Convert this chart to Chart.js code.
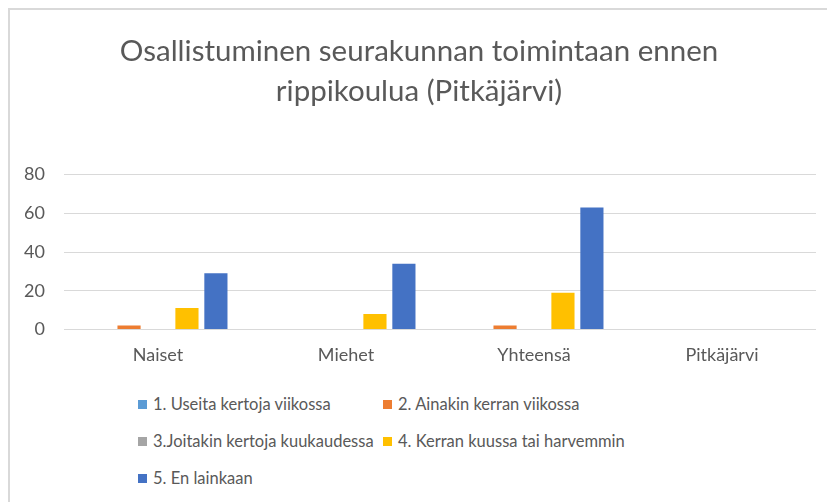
<!DOCTYPE html>
<html>
<head>
<meta charset="utf-8">
<script src="https://cdn.jsdelivr.net/npm/chart.js@4.4.1/dist/chart.umd.min.js"></script>
<style>
  html, body { margin: 0; padding: 0; background: #fff; }
  body { width: 827px; height: 502px; overflow: hidden; position: relative; font-family: Lato, "Open Sans", sans-serif; }
  #frame { position: absolute; left: 8px; top: 8px; width: 840px; height: 520px; border-left: 2px solid #d9d9d9; border-top: 2px solid #d9d9d9; }
  #wrap { position: absolute; left: 0; top: 0; width: 827px; height: 377px; }
  #legend { position: absolute; left: 138px; top: 390px; display: grid; grid-template-columns: 245px 245px; row-gap: 9px; }
  .item { display: flex; align-items: center; height: 28px; font-size: 16.5px; color: #595959; white-space: nowrap; }
  .box { width: 9px; height: 9px; margin-right: 6px; }
</style>
</head>
<body>
<div id="frame"></div>
<div id="wrap"><canvas id="chart"></canvas></div>
<div id="legend"></div>
<script>
const categories = ['Naiset', 'Miehet', 'Yhteensä', 'Pitkäjärvi'];
const seriesNames = [
  '1. Useita kertoja viikossa',
  '2. Ainakin kerran viikossa',
  '3.Joitakin kertoja kuukaudessa',
  '4. Kerran kuussa tai harvemmin',
  '5. En lainkaan'
];
const useitaViikossa = [0, 0, 0, null];
const kerranViikossa = [2, 0, 2, null];
const kertojaKuukaudessa = [0, 0, 0, null];
const kerranKuussa = [11, 8, 19, null];
const enLainkaan = [29, 34, 63, null];
const seriesColors = ['#5b9bd5', '#ed7d31', '#a5a5a5', '#ffc000', '#4472c4'];
const yTicks = [0, 20, 40, 60, 80];

const seriesValues = [useitaViikossa, kerranViikossa, kertojaKuukaudessa, kerranKuussa, enLainkaan];
const textColor = '#595959';

const chart = new Chart(document.getElementById('chart'), {
  type: 'bar',
  data: {
    labels: categories,
    datasets: seriesNames.map((name, i) => ({
      label: name,
      data: seriesValues[i],
      backgroundColor: seriesColors[i],
      borderWidth: 0,
      barPercentage: 0.8,
      categoryPercentage: 0.77
    }))
  },
  options: {
    responsive: true,
    maintainAspectRatio: false,
    animation: false,
    // left padding keeps the title centred like the original
    layout: { padding: { left: 22, right: 11, top: 0, bottom: 4 } },
    plugins: {
      legend: { display: false },
      tooltip: { enabled: false },
      title: {
        display: true,
        text: ['Osallistuminen seurakunnan toimintaan ennen', 'rippikoulua (Pitkäjärvi)'],
        color: textColor,
        font: { family: 'Lato', size: 29.5, weight: 'normal', lineHeight: 1.35 },
        padding: { top: 32, bottom: 63 }
      }
    },
    scales: {
      x: {
        grid: { display: false },
        border: { display: false },
        ticks: { color: textColor, font: { family: 'Lato', size: 18 }, padding: 7 }
      },
      y: {
        min: yTicks[0],
        max: yTicks[yTicks.length - 1],
        afterBuildTicks: (scale) => { scale.ticks = yTicks.map((v) => ({ value: v })); },
        afterFit: (scale) => { scale.width = 42; },
        grid: { color: '#d9d9d9', drawTicks: false },
        border: { display: false },
        ticks: { color: textColor, font: { family: 'Lato', size: 18 }, padding: 19 }
      }
    }
  }
});

const legend = document.getElementById('legend');
chart.data.datasets.forEach((ds) => {
  const item = document.createElement('div');
  item.className = 'item';
  const box = document.createElement('span');
  box.className = 'box';
  box.style.background = ds.backgroundColor;
  item.appendChild(box);
  item.appendChild(document.createTextNode(ds.label));
  legend.appendChild(item);
});
</script>
</body>
</html>
